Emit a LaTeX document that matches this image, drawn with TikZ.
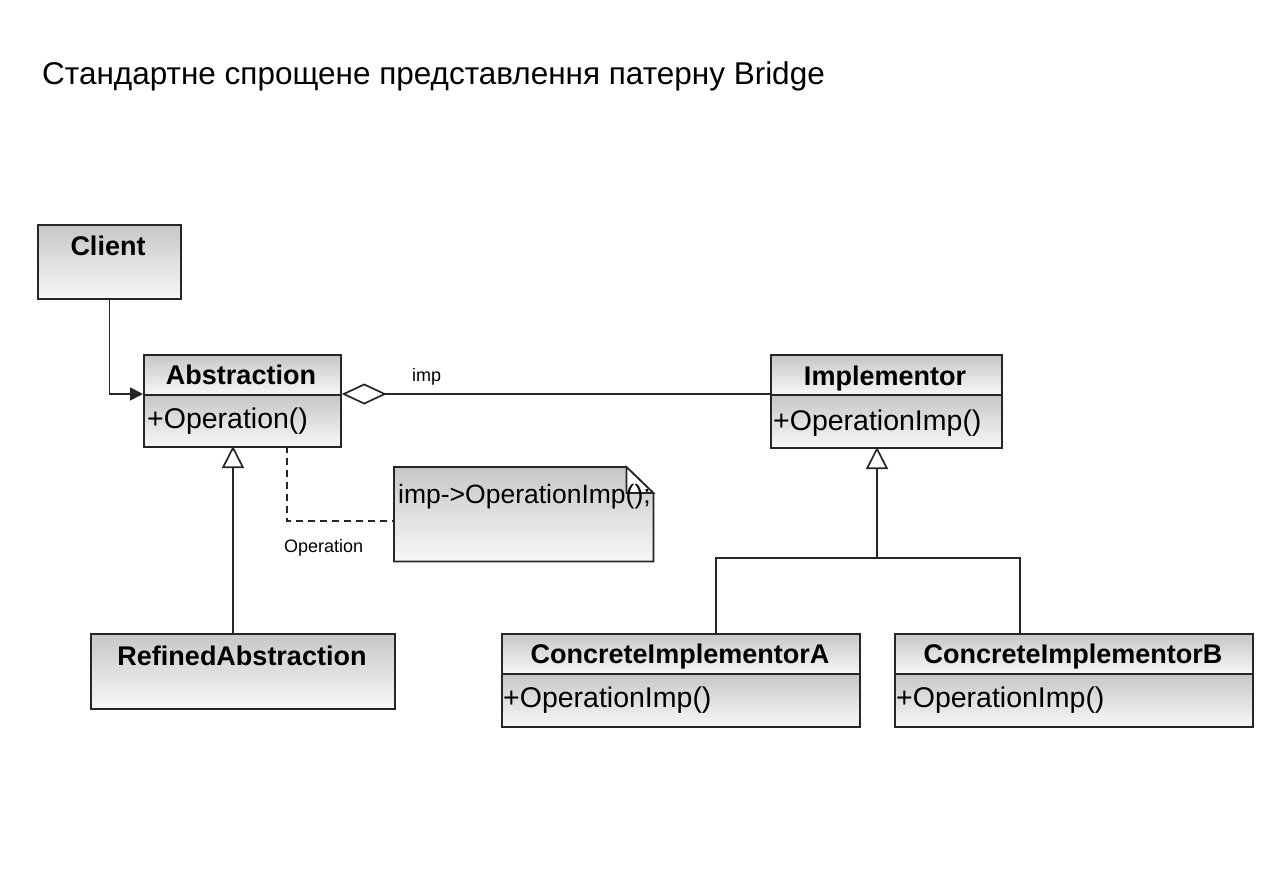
\documentclass[tikz,border=0pt]{standalone}
\usepackage{fontspec}
\setmainfont{Liberation Sans}
\usetikzlibrary{arrows.meta,calc}
\begin{document}
\begin{tikzpicture}[x=1pt,y=-1pt,
  box/.style={draw=black!85, line width=1.7pt, top color=black!22, bottom color=black!3, inner sep=0, anchor=north west},
  hdr/.style={font=\bfseries\fontsize{27}{30}\selectfont, inner sep=0, anchor=base},
  mem/.style={font=\fontsize{28.5}{32}\selectfont, inner sep=0, anchor=base west},
  small/.style={font=\fontsize{18}{21}\selectfont, inner sep=0, anchor=base west},
  conn/.style={draw=black!85, line width=1.7pt},
  inh/.style={conn, -{Triangle[open, length=22, width=22, fill=white]}},
  dsh/.style={conn, dash pattern=on 7pt off 5pt},
]
\useasboundingbox (0,0) rectangle (1280,868);

% title
\node[font=\fontsize{31.5}{36}\selectfont, inner sep=0, anchor=base west] (title) at (42,84) {Стандартне спрощене представлення патерну Bridge};

% Client
\node[box, minimum width=143, minimum height=74] (client) at (37,224) {};
\node[hdr] (clientT) at (108,255) {Client};

% Abstraction
\node[box, minimum width=197, minimum height=40] (absH) at (143,354) {};
\node[box, minimum width=197, minimum height=52] (absB) at (143,394) {};
\node[hdr] (absT) at (241,384) {Abstraction};
\node[mem] (absM) at (147,428) {+Operation()};

% Implementor
\node[box, minimum width=231, minimum height=40] (impH) at (770,354) {};
\node[box, minimum width=231, minimum height=53] (impB) at (770,394) {};
\node[hdr] (impT) at (885,385) {Implementor};
\node[mem] (impM) at (773,430) {+OperationImp()};

% RefinedAbstraction
\node[box, minimum width=304, minimum height=75] (ref) at (90,633) {};
\node[hdr] (refT) at (242,665) {RefinedAbstraction};

% ConcreteImplementorA
\node[box, minimum width=358, minimum height=40] (caH) at (501,633) {};
\node[box, minimum width=358, minimum height=53] (caB) at (501,673) {};
\node[hdr] (caT) at (680,663) {ConcreteImplementorA};
\node[mem] (caM) at (503,707) {+OperationImp()};

% ConcreteImplementorB
\node[box, minimum width=358, minimum height=40] (cbH) at (894,633) {};
\node[box, minimum width=358, minimum height=53] (cbB) at (894,673) {};
\node[hdr] (cbT) at (1073,663) {ConcreteImplementorB};
\node[mem] (cbM) at (896,707) {+OperationImp()};

% Note
\node[inner sep=0, minimum width=259, minimum height=94, anchor=north west] (note) at (394,467) {};
\path[draw=black!85, line width=1.7pt, top color=black!22, bottom color=black!3]
  (note.north west) -- ($(note.north east)+(-27,0)$) -- ($(note.north east)+(0,26)$)
  -- (note.south east) -- (note.south west) -- cycle;
\path[draw=black!85, line width=1.7pt, fill=white]
  ($(note.north east)+(-27,0)$) -- ($(note.north east)+(-27,26)$) -- ($(note.north east)+(0,26)$) -- cycle;
\node[font=\fontsize{26.5}{30}\selectfont, inner sep=0, anchor=base west] (noteT) at (398,503) {imp->OperationImp();};

% connectors
\draw[conn, -{Triangle[length=13, width=13]}] (client.south) |- (absB.north west);
\draw[conn, {Diamond[open, length=45, width=21, fill=white]}-] (absB.north east) -- (impB.north west);
\node[small] (impL) at (412,381) {imp};

\coordinate (absTri) at (233,446);
\draw[inh] (ref.north -| absTri) -- (absTri);

\coordinate (impTri) at (877,447);
\coordinate (jn) at (877,558);
\coordinate (caTop) at (716,633);
\coordinate (cbTop) at (1020,633);
\draw[inh] (jn) -- (impTri);
\draw[conn] (caTop) |- (jn) -| (cbTop);

\coordinate (opc) at (287,446);
\draw[dsh] (opc) |- ([yshift=-7pt]note.west);
\node[small] (opL) at (284,552) {Operation};
\end{tikzpicture}
\end{document}
